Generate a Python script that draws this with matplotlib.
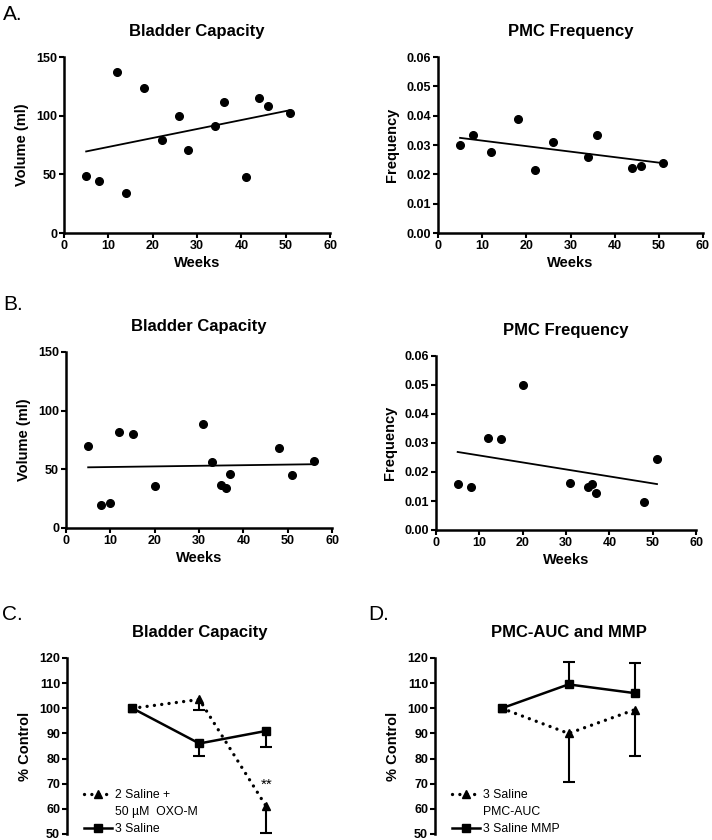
import numpy as np
import matplotlib
matplotlib.use("Agg")
import matplotlib.pyplot as plt
from matplotlib.lines import Line2D

plt.rcParams['font.family'] = ['Liberation Sans', 'DejaVu Sans']

# ---------------- data ----------------
a_cap_weeks = [5, 8, 12, 14, 18, 22, 26, 28, 34, 36, 41, 44, 46, 51]
a_cap_vol = [49, 44, 137, 34, 124, 79, 100, 71, 91, 112, 48, 115, 108, 102]

a_freq_weeks = [5, 8, 12, 18, 22, 26, 34, 36, 44, 46, 51]
a_freq_val = [0.030, 0.0333, 0.0275, 0.039, 0.0216, 0.031, 0.026, 0.0333, 0.022, 0.023, 0.0237]

b_cap_weeks = [5, 8, 10, 12, 15, 20, 31, 33, 35, 36, 37, 48, 51, 56]
b_cap_vol = [70, 20, 21, 82, 80, 36, 89, 56, 37, 34, 46, 68, 45, 57]

b_freq_weeks = [5, 8, 12, 15, 20, 31, 35, 36, 37, 48, 51]
b_freq_val = [0.016, 0.0147, 0.0318, 0.0313, 0.050, 0.0162, 0.0147, 0.0158, 0.0128, 0.0098, 0.0244]

c_saline = [100, 86, 91]
c_saline_err = [0, -5, -6.5]      # signed: negative = bar drawn downward
c_oxo = [100, 103.5, 61]
c_oxo_err = [0, -4, -10.5]

d_mmp = [100, 109.5, 106]
d_mmp_err = [0, 9, 12]
d_auc = [100, 90, 99.5]
d_auc_err = [0, -19.5, -18.5]

c_legend = ['2 Saline +', '50 µM  OXO-M', '3 Saline']
d_legend = ['3 Saline', 'PMC-AUC', '3 Saline MMP']

W, H = 712, 840
fig = plt.figure(figsize=(W / 100, H / 100), dpi=100)


def add_ax(x0, x1, ytop, ybot):
    return fig.add_axes([x0 / W, 1 - ybot / H, (x1 - x0) / W, (ybot - ytop) / H])


TICK_FS = 9
LABEL_FS = 10.5
TITLE_FS = 12


def style(ax, show_bottom=True):
    for s in ['top', 'right']:
        ax.spines[s].set_visible(False)
    for s in ['left', 'bottom']:
        ax.spines[s].set_linewidth(1.8)
    if not show_bottom:
        ax.spines['bottom'].set_visible(False)
        ax.set_xticks([])
    ax.tick_params(direction='out', length=3.5, width=1.5, labelsize=TICK_FS, pad=1.5)
    for lab in ax.get_xticklabels() + ax.get_yticklabels():
        lab.set_fontweight('bold')


def scatter_panel(ax, x, y, ylim, yticks, yfmt, ylabel, title):
    x = np.array(x, float)
    y = np.array(y, float)
    ax.plot(x, y, 'o', color='black', ms=5.5, clip_on=False, zorder=3)
    k, b = np.polyfit(x, y, 1)
    xx = np.array([x.min(), x.max()])
    ax.plot(xx, k * xx + b, color='black', lw=1.3)
    ax.set_xlim(0, 60)
    ax.set_xticks([0, 10, 20, 30, 40, 50, 60])
    ax.set_ylim(*ylim)
    ax.set_yticks(yticks)
    ax.set_yticklabels([yfmt.format(v) for v in yticks])
    ax.set_xlabel('Weeks', fontsize=LABEL_FS, fontweight='bold', labelpad=3)
    ax.set_ylabel(ylabel, fontsize=LABEL_FS, fontweight='bold', labelpad=5)
    ax.set_title(title, fontsize=TITLE_FS, fontweight='bold', pad=15)
    style(ax)


ax1 = add_ax(64, 330, 57, 233)
scatter_panel(ax1, a_cap_weeks, a_cap_vol, (0, 150), [0, 50, 100, 150], '{:.0f}',
              'Volume (ml)', 'Bladder Capacity')
ax2 = add_ax(438, 703, 57, 233)
scatter_panel(ax2, a_freq_weeks, a_freq_val, (0, 0.06), [0, 0.01, 0.02, 0.03, 0.04, 0.05, 0.06],
              '{:.2f}', 'Frequency', 'PMC Frequency')
ax3 = add_ax(66, 332, 352, 528)
scatter_panel(ax3, b_cap_weeks, b_cap_vol, (0, 150), [0, 50, 100, 150], '{:.0f}',
              'Volume (ml)', 'Bladder Capacity')
ax4 = add_ax(436, 696, 356, 530)
scatter_panel(ax4, b_freq_weeks, b_freq_val, (0, 0.06), [0, 0.01, 0.02, 0.03, 0.04, 0.05, 0.06],
              '{:.2f}', 'Frequency', 'PMC Frequency')

DOT = (0, (0.01, 2.2))
pos = np.array([0, 1, 2])
CAP_MS = 9


def series(ax, y, err, marker, dotted):
    y = np.array(y, float)
    err = np.array(err, float)
    if dotted:
        ax.plot(pos, y, color='black', lw=2.4, linestyle=DOT, dash_capstyle='round',
                solid_capstyle='round', zorder=3)
    else:
        ax.plot(pos, y, color='black', lw=1.8, zorder=4)
    ax.plot(pos, y, linestyle='none', marker=marker, color='black', ms=5.5, zorder=5)
    m = err != 0
    ax.vlines(pos[m], y[m], y[m] + err[m], color='black', lw=1.5, zorder=2)
    ax.plot(pos[m], y[m] + err[m], linestyle='none', marker='_', ms=CAP_MS,
            mew=1.5, color='black', zorder=2, clip_on=False)


def add_legend(ax, labels):
    h_dot = Line2D([0], [0], color='black', lw=2.4, linestyle=DOT, dash_capstyle='round',
                   marker='^', ms=5.5)
    h_blank = Line2D([0], [0], color='none', lw=0)
    h_sol = Line2D([0], [0], color='black', lw=1.8, marker='s', ms=5.5)
    ax.legend([h_dot, h_blank, h_sol], labels, loc='lower left',
              bbox_to_anchor=(0.065, -0.008), frameon=False, fontsize=8.8,
              handlelength=2.3, handletextpad=0.2, borderpad=0, borderaxespad=0,
              labelspacing=0.42)


# ---- C ----
ax5 = add_ax(67, 333, 658, 834)
series(ax5, c_oxo, c_oxo_err, '^', True)
series(ax5, c_saline, c_saline_err, 's', False)
ax5.text(2.0, 69.5, '**', ha='center', va='center', fontsize=11)
ax5.set_xlim(-0.98, 3.0)
ax5.set_ylim(50, 120)
ax5.set_yticks(range(50, 121, 10))
ax5.set_ylabel('% Control', fontsize=LABEL_FS, fontweight='bold', labelpad=5)
ax5.set_title('Bladder Capacity', fontsize=TITLE_FS, fontweight='bold', pad=15)
style(ax5, show_bottom=False)
add_legend(ax5, c_legend)

# ---- D ----
ax6 = add_ax(435, 702, 658, 834)
series(ax6, d_auc, d_auc_err, '^', True)
series(ax6, d_mmp, d_mmp_err, 's', False)
ax6.set_xlim(-1.0, 3.0)
ax6.set_ylim(50, 120)
ax6.set_yticks(range(50, 121, 10))
ax6.set_ylabel('% Control', fontsize=LABEL_FS, fontweight='bold', labelpad=5)
ax6.set_title('PMC-AUC and MMP', fontsize=TITLE_FS, fontweight='bold', pad=15)
style(ax6, show_bottom=False)
add_legend(ax6, d_legend)

# panel letters
for txt, x, y in [('A.', 3, 14), ('B.', 3, 305), ('C.', 2, 615), ('D.', 368, 615)]:
    fig.text(x / W, 1 - y / H, txt, fontsize=15, ha='left', va='center')

fig.savefig('out.png', dpi=100)
